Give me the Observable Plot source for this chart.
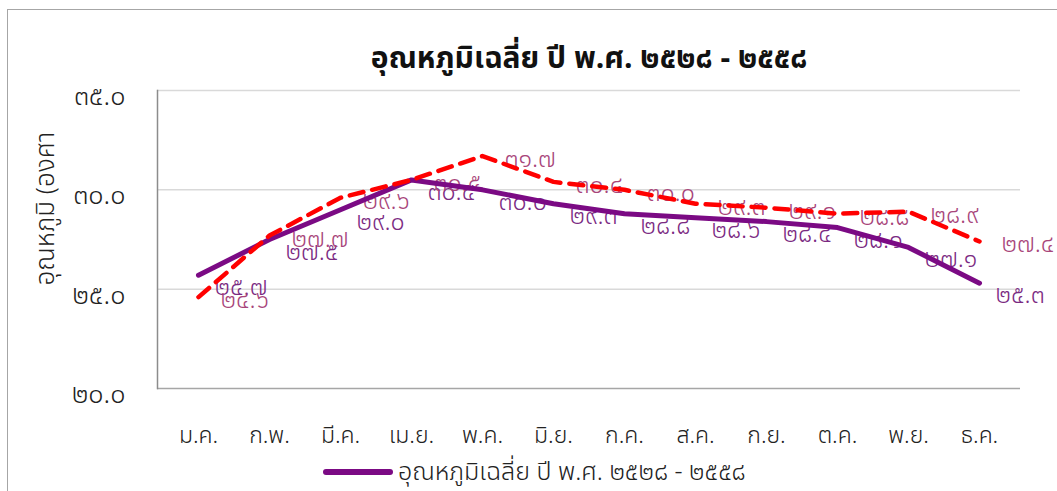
<!DOCTYPE html>
<html><head><meta charset="utf-8">
<script src="https://cdn.jsdelivr.net/npm/d3@7"></script>
<script src="https://cdn.jsdelivr.net/npm/@observablehq/plot@0.6"></script>
<style>
html,body{margin:0;padding:0;background:#fff;}
#wrap{position:relative;width:1057px;height:491px;overflow:hidden;font-family:"Noto Sans Thai","Noto Sans",sans-serif;}
#border{position:absolute;left:7px;top:9px;width:1200px;height:700px;border:1.5px solid #a6a6a6;box-sizing:border-box;}
#chart{position:absolute;left:0;top:0;}
#legend{position:absolute;left:323px;top:457px;height:30px;line-height:30px;display:flex;align-items:center;font-size:25px;font-weight:300;color:#222;white-space:nowrap;}
#legend .sw{width:70px;height:6px;border-radius:3px;background:#7b0a84;margin-right:5px;}
</style></head>
<body>
<div id="wrap"><div id="border"></div><div id="chart"></div>
<div id="legend"><span class="sw"></span><span id="legtext"></span></div></div>
<script>
const months = ["ม.ค.","ก.พ.","มี.ค.","เม.ย.","พ.ค.","มิ.ย.","ก.ค.","ส.ค.","ก.ย.","ต.ค.","พ.ย.","ธ.ค."];
const avgTemp = [25.7,27.5,29.0,30.5,30.0,29.3,28.8,28.6,28.4,28.1,27.1,25.3];
const otherTemp = [24.6,27.7,29.6,30.5,31.7,30.4,30.0,29.3,29.1,28.8,28.9,27.4];
const yTicks = [20,25,30,35];
const titleText = "อุณหภูมิเฉลี่ย ปี พ.ศ. ๒๕๒๘ - ๒๕๕๘";
const seriesName = "อุณหภูมิเฉลี่ย ปี พ.ศ. ๒๕๒๘ - ๒๕๕๘";
const yTitle = "อุณหภูมิ (องศา";

const thaiDigits = "๐๑๒๓๔๕๖๗๘๙";
const toThai = v => v.toFixed(1).replace(/[0-9]/g, d => thaiDigits[+d]);

const purple = months.map((m,i)=>({m, v: avgTemp[i]}));
const red = months.map((m,i)=>({m, v: otherTemp[i]}));

const FONT = '"Noto Sans Thai","Noto Sans",sans-serif';
const chart = Plot.plot({
  width: 1057, height: 491,
  marginLeft: 157, marginRight: 37, marginTop: 90, marginBottom: 103,
  style: {fontFamily: FONT, background: "transparent", overflow: "visible"},
  x: {type: "point", domain: months, padding: 0.5},
  y: {domain: [20,35]},
  marks: [
    Plot.gridY(yTicks.filter(t=>t>20), {stroke:"#d9d9d9", strokeOpacity:1, strokeWidth:1.5}),
    Plot.ruleY([20], {stroke:"#a6a6a6", strokeWidth:1.5}),
    Plot.frame({anchor:"left", stroke:"#8c8c8c", strokeWidth:1.5}),
    Plot.axisY({ticks: yTicks, tickSize:0, tickPadding:32, tickFormat: toThai, fontSize:27, fontWeight:300, fill:"#222", dy:6, label:null}),
    Plot.axisX({tickSize:0, tickPadding:38, fontSize:23, fontWeight:300, fill:"#222", label:null}),
    Plot.text([titleText], {frameAnchor:"top", dy:-44, fontSize:30, fontWeight:"bold", fill:"#111"}),
    Plot.text([yTitle], {frameAnchor:"left", dx:-112, dy:46, rotate:-90, textAnchor:"start", fontSize:26, fontWeight:300, fill:"#222"}),
    Plot.text(purple, {x:"m", y:"v", text: d=>toThai(d.v), dx:16, dy:12, textAnchor:"start", fontSize:25, fontWeight:300, fill:"#7b2a82"}),
    Plot.text(red, {x:"m", y:"v", text: d=>toThai(d.v), dx:22, dy:3, textAnchor:"start", fontSize:25, fontWeight:300, fill:"#a8457a"}),
    Plot.line(purple, {x:"m", y:"v", stroke:"#7b0a84", strokeWidth:5, strokeLinecap:"round"}),
    Plot.line(red, {x:"m", y:"v", stroke:"#ff0000", strokeWidth:4.5, strokeDasharray:"14,9", strokeLinecap:"round"})
  ]
});
document.getElementById("chart").appendChild(chart);
document.getElementById("legtext").textContent = seriesName;
</script>
</body></html>
